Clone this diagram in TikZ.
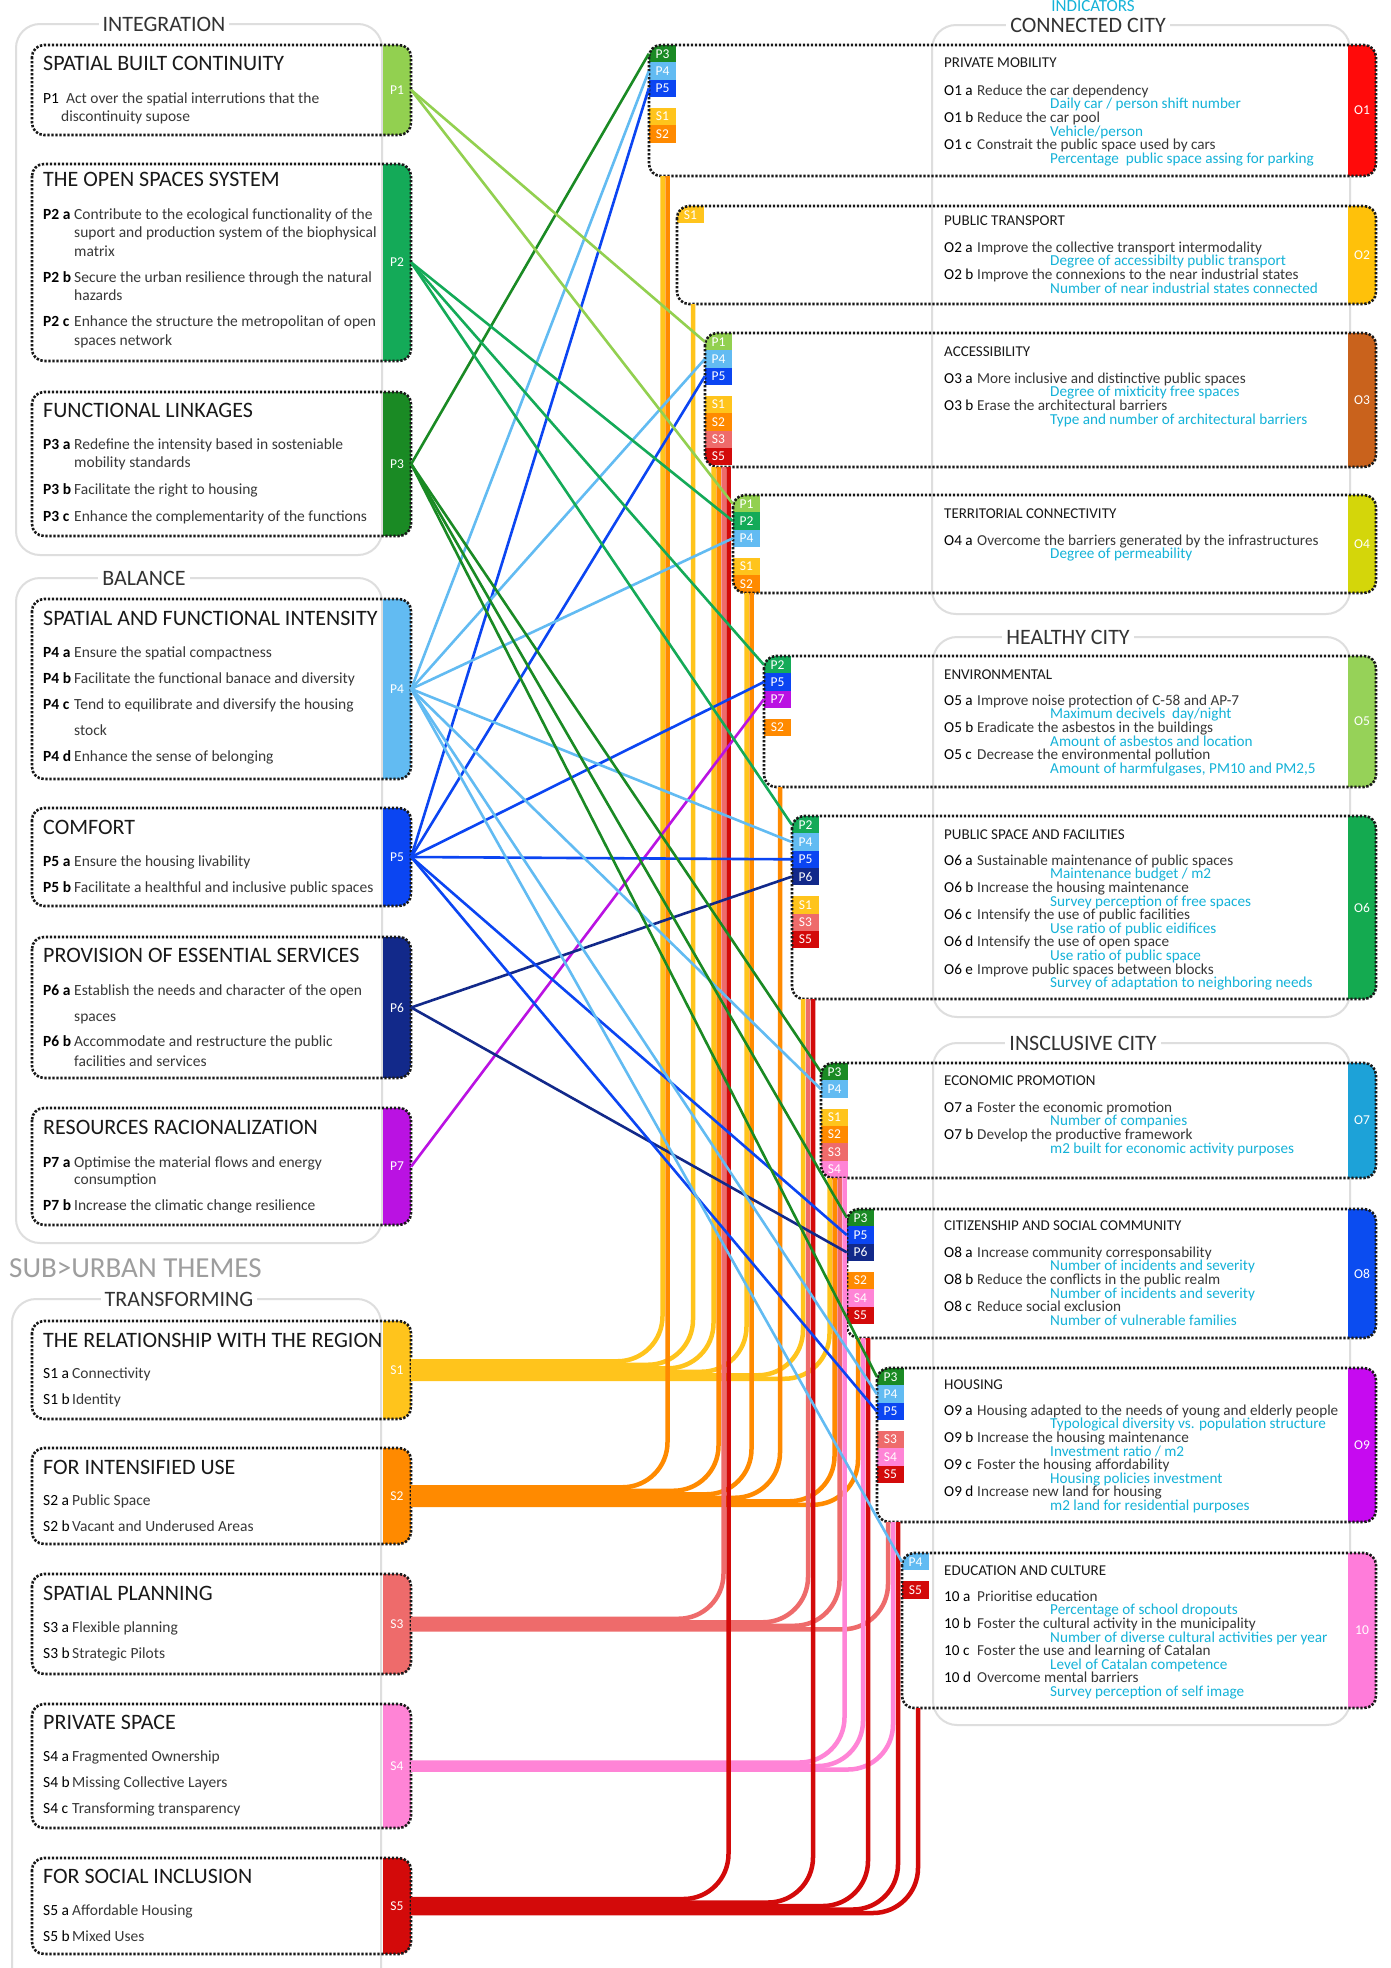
\documentclass[tikz,border=0pt]{standalone}
\usepackage{fontspec}
\setmainfont{Carlito}
\usepackage{xcolor}
\usepackage{tikz}

% colours of principles, themes and objectives
\definecolor{cP1}{HTML}{92D050}
\definecolor{cP2}{HTML}{14AA58}
\definecolor{cP3}{HTML}{1A8A24}
\definecolor{cP4}{HTML}{62BBF2}
\definecolor{cP5}{HTML}{0B45F2}
\definecolor{cP6}{HTML}{12298A}
\definecolor{cP7}{HTML}{BA12E2}
\definecolor{cS1}{HTML}{FFC41C}
\definecolor{cS2}{HTML}{FF8A00}
\definecolor{cS3}{HTML}{EE6B6B}
\definecolor{cS4}{HTML}{FF84D6}
\definecolor{cS5}{HTML}{D30A0A}
\definecolor{cO1}{HTML}{FF0A0A}
\definecolor{cO2}{HTML}{FFC10A}
\definecolor{cO3}{HTML}{C9621C}
\definecolor{cO4}{HTML}{D4D60A}
\definecolor{cO5}{HTML}{96D258}
\definecolor{cO6}{HTML}{14AA50}
\definecolor{cO7}{HTML}{1DA2D8}
\definecolor{cO8}{HTML}{0B4CF0}
\definecolor{cO9}{HTML}{C60AF0}
\definecolor{cO10}{HTML}{FF7CDA}
\definecolor{indic}{HTML}{14B2D8}
\definecolor{grp}{HTML}{DEDEDE}

\newcommand{\plab}[1]{\makebox[31pt][l]{\color{black}\textbf{#1}}}
\newcommand{\ilab}[2][29pt]{\makebox[#1][l]{\color{black}#2}}
\newcommand{\indline}[1]{\hspace*{106pt}\textcolor{indic}{#1}}

\tikzset{
  dotbox/.style={draw=black!90, line width=2.6pt, dash pattern=on 2.4pt off 1.6pt, rounded corners=12pt},
  group/.style={draw=grp, line width=2pt, rounded corners=24pt},
  grouplabel/.style={fill=white, inner sep=4pt, text=black!80, font=\fontsize{22}{24}\selectfont},
  ptitle/.style={anchor=west, inner sep=0, text=black!90, font=\fontsize{22}{24}\selectfont},
  pbody/.style={anchor=north west, align=left, inner sep=0, text=black!78, font=\fontsize{15.5}{18.5}\selectfont},
  otitle/.style={anchor=west, inner sep=0, text=black!90, font=\fontsize{15}{16}\selectfont},
  obody/.style={anchor=north west, align=left, inner sep=0, text=black!78, font=\fontsize{15.2}{13.6}\selectfont},
  ptag/.style={minimum width=28pt, inner sep=0, text=white, font=\fontsize{13.5}{13.5}\selectfont},
  otag/.style={fill=#1, minimum width=27pt, minimum height=17.3pt, inner sep=0, text=white, font=\fontsize{13.5}{13.5}\selectfont},
  plink/.style={draw=#1, line width=2.6pt},
  slink/.style={draw=#1, line width=4.5pt, rounded corners=45pt},
}

\begin{document}
\lineskiplimit=-20pt
\begin{tikzpicture}[x=1pt, y=-1pt]
\useasboundingbox (0,0) rectangle (1391,1968);
\fill[white] (0,0) rectangle (1391,1968);

% group frames
\draw[group] (16,24) rectangle (382,555);
\node[grouplabel] (gInt) at (164,24) {INTEGRATION};
\draw[group] (16,578) rectangle (382,1243);
\node[grouplabel] (gBal) at (144,578) {BALANCE};
\node[anchor=west, inner sep=0, text=black!38, font=\fontsize{29}{30}\selectfont] (subt) at (9,1268) {SUB>URBAN THEMES};
\draw[group] (12,1299) rectangle (381,1995);
\node[grouplabel] (gTra) at (179,1299) {TRANSFORMING};
\draw[group] (932,25) rectangle (1350,614);
\node[grouplabel] (gCon) at (1088,25) {CONNECTED CITY};
\draw[group] (933,637) rectangle (1350,1017);
\node[grouplabel] (gHea) at (1068,637) {HEALTHY CITY};
\draw[group] (933,1043) rectangle (1350,1725);
\node[grouplabel] (gInc) at (1083,1043) {INSCLUSIVE CITY};
\node[text=indic, font=\fontsize{17}{17}\selectfont] (indh) at (1093,6) {INDICATORS};

% colour columns of principles and themes
\foreach \t/\b/\c in {45/135/cP1, 164/361/cP2, 392/536/cP3, 599/779/cP4, 808/906/cP5, 937/1078/cP6, 1108/1225/cP7,
                      1321/1419/cS1, 1448/1544/cS2, 1574/1674/cS3, 1704/1828/cS4, 1858/1954/cS5}{
  \begin{scope}
    \clip[rounded corners=12pt] (32,\t) rectangle (411,\b);
    \fill[\c] (383,\t) rectangle (411,\b);
  \end{scope}
}
\node[ptag] (P1) at (397,90) {P1};
\node[ptag] (P2) at (397,262.5) {P2};
\node[ptag] (P3) at (397,464) {P3};
\node[ptag] (P4) at (397,689) {P4};
\node[ptag] (P5) at (397,857) {P5};
\node[ptag] (P6) at (397,1007.5) {P6};
\node[ptag] (P7) at (397,1166.5) {P7};
\node[ptag] (S1) at (397,1370) {S1};
\node[ptag] (S2) at (397,1496) {S2};
\node[ptag] (S3) at (397,1624) {S3};
\node[ptag] (S4) at (397,1766) {S4};
\node[ptag] (S5) at (397,1906) {S5};

% objective boxes: colour column and tags
\begin{scope}
  \clip[rounded corners=12pt] (649,45) rectangle (1376,176);
  \fill[cO1] (1348,45) rectangle (1376,176);
  \node[otag=cP3] (o1P3) at (662.5,53.7) {P3};
  \node[otag=cP4] (o1P4) at (662.5,71) {P4};
  \node[otag=cP5] (o1P5) at (662.5,88.3) {P5};
  \node[otag=cS1] (o1S1) at (662.5,116.6) {S1};
  \node[otag=cS2] (o1S2) at (662.5,133.9) {S2};
\end{scope}
\begin{scope}
  \clip[rounded corners=12pt] (677,206) rectangle (1376,304);
  \fill[cO2] (1348,206) rectangle (1376,304);
  \node[otag=cS1] (o2S1) at (690.5,214.7) {S1};
\end{scope}
\begin{scope}
  \clip[rounded corners=12pt] (705,333) rectangle (1376,467);
  \fill[cO3] (1348,333) rectangle (1376,467);
  \node[otag=cP1] (o3P1) at (718.5,341.7) {P1};
  \node[otag=cP4] (o3P4) at (718.5,359) {P4};
  \node[otag=cP5] (o3P5) at (718.5,376.3) {P5};
  \node[otag=cS1] (o3S1) at (718.5,404.6) {S1};
  \node[otag=cS2] (o3S2) at (718.5,421.9) {S2};
  \node[otag=cS3] (o3S3) at (718.5,439.2) {S3};
  \node[otag=cS5] (o3S5) at (718.5,456.5) {S5};
\end{scope}
\begin{scope}
  \clip[rounded corners=12pt] (733,495) rectangle (1376,593);
  \fill[cO4] (1348,495) rectangle (1376,593);
  \node[otag=cP1] (o4P1) at (746.5,503.7) {P1};
  \node[otag=cP2] (o4P2) at (746.5,521) {P2};
  \node[otag=cP4] (o4P4) at (746.5,538.3) {P4};
  \node[otag=cS1] (o4S1) at (746.5,566.6) {S1};
  \node[otag=cS2] (o4S2) at (746.5,583.9) {S2};
\end{scope}
\begin{scope}
  \clip[rounded corners=12pt] (764,656) rectangle (1376,787);
  \fill[cO5] (1348,656) rectangle (1376,787);
  \node[otag=cP2] (o5P2) at (777.5,664.7) {P2};
  \node[otag=cP5] (o5P5) at (777.5,682) {P5};
  \node[otag=cP7] (o5P7) at (777.5,699.3) {P7};
  \node[otag=cS2] (o5S2) at (777.5,727.6) {S2};
\end{scope}
\begin{scope}
  \clip[rounded corners=12pt] (792,816) rectangle (1376,999);
  \fill[cO6] (1348,816) rectangle (1376,999);
  \node[otag=cP2] (o6P2) at (805.5,824.7) {P2};
  \node[otag=cP4] (o6P4) at (805.5,842) {P4};
  \node[otag=cP5] (o6P5) at (805.5,859.3) {P5};
  \node[otag=cP6] (o6P6) at (805.5,876.6) {P6};
  \node[otag=cS1] (o6S1) at (805.5,904.9) {S1};
  \node[otag=cS3] (o6S3) at (805.5,922.2) {S3};
  \node[otag=cS5] (o6S5) at (805.5,939.5) {S5};
\end{scope}
\begin{scope}
  \clip[rounded corners=12pt] (821,1063) rectangle (1376,1178);
  \fill[cO7] (1348,1063) rectangle (1376,1178);
  \node[otag=cP3] (o7P3) at (834.5,1071.7) {P3};
  \node[otag=cP4] (o7P4) at (834.5,1089) {P4};
  \node[otag=cS1] (o7S1) at (834.5,1117.3) {S1};
  \node[otag=cS2] (o7S2) at (834.5,1134.6) {S2};
  \node[otag=cS3] (o7S3) at (834.5,1151.9) {S3};
  \node[otag=cS4] (o7S4) at (834.5,1169.2) {S4};
\end{scope}
\begin{scope}
  \clip[rounded corners=12pt] (847,1209) rectangle (1376,1338);
  \fill[cO8] (1348,1209) rectangle (1376,1338);
  \node[otag=cP3] (o8P3) at (860.5,1217.7) {P3};
  \node[otag=cP5] (o8P5) at (860.5,1235) {P5};
  \node[otag=cP6] (o8P6) at (860.5,1252.3) {P6};
  \node[otag=cS2] (o8S2) at (860.5,1280.6) {S2};
  \node[otag=cS4] (o8S4) at (860.5,1297.9) {S4};
  \node[otag=cS5] (o8S5) at (860.5,1315.2) {S5};
\end{scope}
\begin{scope}
  \clip[rounded corners=12pt] (877,1368) rectangle (1376,1522);
  \fill[cO9] (1348,1368) rectangle (1376,1522);
  \node[otag=cP3] (o9P3) at (890.5,1376.7) {P3};
  \node[otag=cP4] (o9P4) at (890.5,1394) {P4};
  \node[otag=cP5] (o9P5) at (890.5,1411.3) {P5};
  \node[otag=cS3] (o9S3) at (890.5,1439.6) {S3};
  \node[otag=cS4] (o9S4) at (890.5,1456.9) {S4};
  \node[otag=cS5] (o9S5) at (890.5,1474.2) {S5};
\end{scope}
\begin{scope}
  \clip[rounded corners=12pt] (902,1553) rectangle (1376,1708);
  \fill[cO10] (1348,1553) rectangle (1376,1708);
  \node[otag=cP4] (o10P4) at (915.5,1561.7) {P4};
  \node[otag=cS5] (o10S5) at (915.5,1590) {S5};
\end{scope}
\node[ptag] (olab1) at (1362,110.5) {O1};
\node[ptag] (olab2) at (1362,255) {O2};
\node[ptag] (olab3) at (1362,400) {O3};
\node[ptag] (olab4) at (1362,544) {O4};
\node[ptag] (olab5) at (1362,721.5) {O5};
\node[ptag] (olab6) at (1362,907.5) {O6};
\node[ptag] (olab7) at (1362,1120.5) {O7};
\node[ptag] (olab8) at (1362,1273.5) {O8};
\node[ptag] (olab9) at (1362,1445) {O9};
\node[ptag] (olab10) at (1362,1630.5) {10};

% dotted borders
\foreach \l/\t/\r/\b in {32/45/411/135, 32/164/411/361, 32/392/411/536, 32/599/411/779, 32/808/411/906, 32/937/411/1078,
                         32/1108/411/1225, 32/1321/411/1419, 32/1448/411/1544, 32/1574/411/1674, 32/1704/411/1828, 32/1858/411/1954,
                         649/45/1376/176, 677/206/1376/304, 705/333/1376/467, 733/495/1376/593, 764/656/1376/787,
                         792/816/1376/999, 821/1063/1376/1178, 847/1209/1376/1338, 877/1368/1376/1522, 902/1553/1376/1708}
  \draw[dotbox] (\l,\t) rectangle (\r,\b);

% principles
\node[ptitle] (t1) at (43,63) {SPATIAL BUILT CONTINUITY};
\node[pbody] (d1) at (43,92.5) {\ilab[23pt]{P1}Act over the spatial interrutions that the\\\hspace*{18pt}discontinuity supose};
\node[ptitle] (t2) at (43,179) {THE OPEN SPACES SYSTEM};
\node[pbody] (d2) at (43,208.5) {\plab{P2 a}Contribute to the ecological functionality of the\\%
\hspace*{31pt}suport and production system of the biophysical\\\hspace*{31pt}matrix\\[7.5pt]%
\plab{P2 b}Secure the urban resilience through the natural\\\hspace*{31pt}hazards\\[7.5pt]%
\plab{P2 c}Enhance the structure the metropolitan of open\\\hspace*{31pt}spaces network};
\node[ptitle] (t3) at (43,410) {FUNCTIONAL LINKAGES};
\node[pbody] (d3) at (43,438.5) {\plab{P3 a}Redefine the intensity based in sosteniable\\\hspace*{31pt}mobility standards\\[8pt]%
\plab{P3 b}Facilitate the right to housing\\[8.5pt]\plab{P3 c}Enhance the complementarity of the functions};
\node[ptitle] (t4) at (43,618) {SPATIAL AND FUNCTIONAL INTENSITY};
\node[pbody] (d4) at (43,646.5) {\plab{P4 a}Ensure the spatial compactness\\[7.5pt]\plab{P4 b}Facilitate the functional banace and diversity\\[7.5pt]%
\plab{P4 c}Tend to equilibrate and diversify the housing\\[7.5pt]\hspace*{31pt}stock\\[7.5pt]\plab{P4 d}Enhance the sense of belonging};
\node[ptitle] (t5) at (43,827) {COMFORT};
\node[pbody] (d5) at (43,855.5) {\plab{P5 a}Ensure the housing livability\\[7.5pt]\plab{P5 b}Facilitate a healthful and inclusive public spaces};
\node[ptitle] (t6) at (43,955) {PROVISION OF ESSENTIAL SERVICES};
\node[pbody] (d6) at (43,984.5) {\plab{P6 a}Establish the needs and character of the open\\[7.5pt]\hspace*{31pt}spaces\\[6.5pt]%
\plab{P6 b}Accommodate and restructure the public\\[1.5pt]\hspace*{31pt}facilities and services};
\node[ptitle] (t7) at (43,1127) {RESOURCES RACIONALIZATION};
\node[pbody] (d7) at (43,1156.5) {\plab{P7 a}Optimise the material flows and energy\\[-1.5pt]\hspace*{31pt}consumption\\[7.5pt]%
\plab{P7 b}Increase the climatic change resilience};

% themes
\node[ptitle] (ts1) at (43,1340) {THE RELATIONSHIP WITH THE REGION};
\node[pbody] (ds1) at (43,1367.5) {\ilab{S1 a}Connectivity\\[7.5pt]\ilab{S1 b}Identity};
\node[ptitle] (ts2) at (43,1467) {FOR INTENSIFIED USE};
\node[pbody] (ds2) at (43,1494.5) {\ilab{S2 a}Public Space\\[7.5pt]\ilab{S2 b}Vacant and Underused Areas};
\node[ptitle] (ts3) at (43,1593) {SPATIAL PLANNING};
\node[pbody] (ds3) at (43,1621.5) {\ilab{S3 a}Flexible planning\\[7.5pt]\ilab{S3 b}Strategic Pilots};
\node[ptitle] (ts4) at (43,1722) {PRIVATE SPACE};
\node[pbody] (ds4) at (43,1750.5) {\ilab{S4 a}Fragmented Ownership\\[7.5pt]\ilab{S4 b}Missing Collective Layers\\[7.5pt]\ilab{S4 c}Transforming transparency};
\node[ptitle] (ts5) at (43,1876) {FOR SOCIAL INCLUSION};
\node[pbody] (ds5) at (43,1904.5) {\ilab{S5 a}Affordable Housing\\[7.5pt]\ilab{S5 b}Mixed Uses};

% objectives and indicators
\node[otitle] (ot1) at (944,63) {PRIVATE MOBILITY};
\node[obody] (od1) at (944,84.5) {\ilab[33pt]{O1 a}Reduce the car dependency\\[0pt]\indline{Daily car / person shift number}\\[0pt]%
\ilab[33pt]{O1 b}Reduce the car pool\\[0pt]\indline{Vehicle/person}\\[0pt]%
\ilab[33pt]{O1 c}Constrait the public space used by cars\\[0pt]\indline{Percentage\ \ public space assing for parking}};
\node[otitle] (ot2) at (944,221) {PUBLIC TRANSPORT};
\node[obody] (od2) at (944,241.5) {\ilab[33pt]{O2 a}Improve the collective transport intermodality\\[0pt]\indline{Degree of accessibilty public transport}\\[0pt]%
\ilab[33pt]{O2 b}Improve the connexions to the near industrial states\\[0pt]\indline{Number of near industrial states connected}};
\node[otitle] (ot3) at (944,352) {ACCESSIBILITY};
\node[obody] (od3) at (944,372.5) {\ilab[33pt]{O3 a}More inclusive and distinctive public spaces\\[0pt]\indline{Degree of mixticity free spaces}\\[0pt]%
\ilab[33pt]{O3 b}Erase the architectural barriers\\[0pt]\indline{Type and number of architectural barriers}};
\node[otitle] (ot4) at (944,514) {TERRITORIAL CONNECTIVITY};
\node[obody] (od4) at (944,534.5) {\ilab[33pt]{O4 a}Overcome the barriers generated by the infrastructures\\[0pt]\indline{Degree of permeability}};
\node[otitle] (ot5) at (944,675) {ENVIRONMENTAL};
\node[obody] (od5) at (944,694.5) {\ilab[33pt]{O5 a}Improve noise protection of C-58 and AP-7\\[0pt]\indline{Maximum decivels\ \ day/night}\\[0pt]%
\ilab[33pt]{O5 b}Eradicate the asbestos in the buildings\\[0pt]\indline{Amount of asbestos and location}\\[0pt]%
\ilab[33pt]{O5 c}Decrease the environmental pollution\\[0pt]\indline{Amount of harmfulgases, PM10 and PM2,5}};
\node[otitle] (ot6) at (944,835) {PUBLIC SPACE AND FACILITIES};
\node[obody] (od6) at (944,854.5) {\ilab[33pt]{O6 a}Sustainable maintenance of public spaces\\[0pt]\indline{Maintenance budget / m2}\\[0pt]%
\ilab[33pt]{O6 b}Increase the housing maintenance\\[0pt]\indline{Survey perception of free spaces}\\[0pt]%
\ilab[33pt]{O6 c}Intensify the use of public facilities\\[0pt]\indline{Use ratio of public eidifices}\\[0pt]%
\ilab[33pt]{O6 d}Intensify the use of open space\\[0pt]\indline{Use ratio of public space}\\[0pt]%
\ilab[33pt]{O6 e}Improve public spaces between blocks\\[0pt]\indline{Survey of adaptation to neighboring needs}};
\node[otitle] (ot7) at (944,1081) {ECONOMIC PROMOTION};
\node[obody] (od7) at (944,1101.5) {\ilab[33pt]{O7 a}Foster the economic promotion\\[0pt]\indline{Number of companies}\\[0pt]%
\ilab[33pt]{O7 b}Develop the productive framework\\[0pt]\indline{m2 built for economic activity purposes}};
\node[otitle] (ot8) at (944,1226) {CITIZENSHIP AND SOCIAL COMMUNITY};
\node[obody] (od8) at (944,1246.5) {\ilab[33pt]{O8 a}Increase community corresponsability\\[0pt]\indline{Number of incidents and severity}\\[0pt]%
\ilab[33pt]{O8 b}Reduce the conflicts in the public realm\\[0pt]\indline{Number of incidents and severity}\\[0pt]%
\ilab[33pt]{O8 c}Reduce social exclusion\\[0pt]\indline{Number of vulnerable families}};
\node[otitle] (ot9) at (944,1385) {HOUSING};
\node[obody] (od9) at (944,1404.5) {\ilab[33pt]{O9 a}Housing adapted to the needs of young and elderly people\\[0pt]\indline{Typological diversity vs. population structure}\\[0pt]%
\ilab[33pt]{O9 b}Increase the housing maintenance\\[0pt]\indline{Investment ratio / m2}\\[0pt]%
\ilab[33pt]{O9 c}Foster the housing affordability\\[0pt]\indline{Housing policies investment}\\[0pt]%
\ilab[33pt]{O9 d}Increase new land for housing\\[0pt]\indline{m2 land for residential purposes}};
\node[otitle] (ot10) at (944,1571) {EDUCATION AND CULTURE};
\node[obody] (od10) at (944,1590.5) {\ilab[33pt]{10 a}Prioritise education\\[0pt]\indline{Percentage of school dropouts}\\[0pt]%
\ilab[33pt]{10 b}Foster the cultural activity in the municipality\\[0pt]\indline{Number of diverse cultural activities per year}\\[0pt]%
\ilab[33pt]{10 c}Foster the use and learning of Catalan\\[0pt]\indline{Level of Catalan competence}\\[0pt]%
\ilab[33pt]{10 d}Overcome mental barriers\\[0pt]\indline{Survey perception of self image}};

% bundle ends under the objective boxes
\coordinate (b1) at (665,176);
\coordinate (b2) at (693,304);
\coordinate (b3) at (721,467);
\coordinate (b4) at (749,593);
\coordinate (b5) at (780,787);
\coordinate (b6) at (808,999);
\coordinate (b7) at (837,1178);
\coordinate (b8) at (863,1338);
\coordinate (b9) at (893,1522);
\coordinate (b10) at (918,1708);

% theme links
\foreach \s/\dy/\b/\dx in {S1/8.75/b1/-2.5, S1/5.25/b2/0, S1/1.75/b3/-7.5, S1/-1.75/b4/-2.5, S1/-5.25/b6/-5, S1/-8.75/b7/-7.5,
                           S2/8.75/b1/2.5, S2/5.25/b3/-2.5, S2/1.75/b4/2.5, S2/-1.75/b5/0, S2/-5.25/b7/-2.5, S2/-8.75/b8/-5,
                           S3/5.25/b3/2.5, S3/1.75/b6/0, S3/-1.75/b7/2.5, S3/-5.25/b9/-5,
                           S4/3.5/b7/7.5, S4/0/b8/0, S4/-3.5/b9/0,
                           S5/7/b3/7.5, S5/3.5/b6/5, S5/0/b8/5, S5/-3.5/b9/5, S5/-7/b10/0}
  \draw[slink=c\s] ([yshift=\dy pt]\s.east) -| ([xshift=\dx pt]\b);

% principle links
\foreach \p/\o in {P3/o1P3, P4/o1P4, P5/o1P5, P1/o3P1, P4/o3P4, P5/o3P5, P1/o4P1, P2/o4P2, P4/o4P4,
                   P2/o5P2, P5/o5P5, P7/o5P7, P2/o6P2, P4/o6P4, P5/o6P5, P6/o6P6, P3/o7P3, P4/o7P4,
                   P3/o8P3, P5/o8P5, P6/o8P6, P3/o9P3, P4/o9P4, P5/o9P5, P4/o10P4}
  \draw[plink=c\p] (\p.east) -- (\o.west);
\end{tikzpicture}
\end{document}
